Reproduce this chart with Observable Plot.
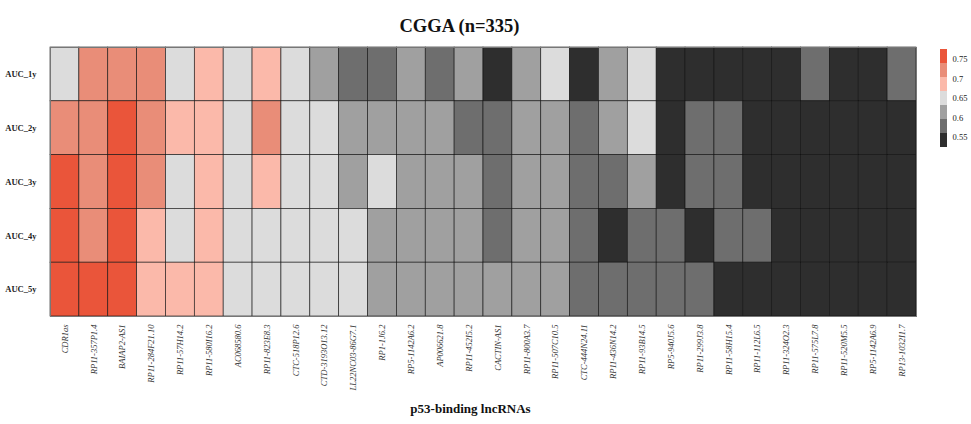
<!DOCTYPE html>
<html>
<head>
<meta charset="utf-8">
<script src="https://cdn.jsdelivr.net/npm/d3@7"></script>
<script src="https://cdn.jsdelivr.net/npm/@observablehq/plot@0.6"></script>
<style>
  body { margin: 0; background: #fff; }
  #wrap { position: relative; width: 971px; height: 424px; }
  #legend { position: absolute; left: 930px; top: 40px; }
</style>
</head>
<body>
<div id="wrap"><div id="main"></div><div id="legend"></div></div>
<script>
const genes = ["CDR1as","RP11-357P1.4","BAIAP2-AS1","RP11-284F21.10","RP11-57H14.2","RP11-580I16.2","AC068580.6","RP11-823E8.3","CTC-518P12.6","CTD-3193O13.12","LL22NC03-86G7.1","RP1-1J6.2","RP5-1142A6.2","AP006621.8","RP11-452I5.2","CACTIN-AS1","RP11-800A3.7","RP11-507C10.5","CTC-444N24.11","RP11-436N14.2","RP11-93B14.5","RP5-940J5.6","RP11-299J3.8","RP11-58H15.4","RP11-112L6.5","RP11-324O2.3","RP11-575L7.8","RP11-520M5.5","RP5-1142A6.9","RP13-1032I1.7"];
const rows = ["AUC_1y","AUC_2y","AUC_3y","AUC_4y","AUC_5y"];
const auc1y = [0.651,0.718,0.716,0.719,0.649,0.688,0.652,0.686,0.650,0.612,0.578,0.580,0.613,0.577,0.614,0.540,0.615,0.652,0.541,0.611,0.649,0.538,0.536,0.539,0.542,0.540,0.579,0.537,0.541,0.578];
const auc2y = [0.717,0.720,0.757,0.719,0.687,0.690,0.651,0.721,0.649,0.652,0.612,0.614,0.611,0.613,0.578,0.580,0.612,0.614,0.577,0.613,0.650,0.540,0.578,0.579,0.541,0.539,0.538,0.540,0.542,0.539];
const auc3y = [0.758,0.719,0.759,0.718,0.650,0.689,0.649,0.688,0.651,0.650,0.613,0.648,0.612,0.611,0.614,0.579,0.613,0.612,0.578,0.577,0.614,0.539,0.579,0.578,0.540,0.538,0.541,0.539,0.537,0.540];
const auc4y = [0.761,0.718,0.760,0.687,0.652,0.689,0.650,0.651,0.649,0.652,0.648,0.612,0.613,0.614,0.612,0.578,0.611,0.613,0.579,0.541,0.577,0.580,0.539,0.578,0.579,0.540,0.538,0.539,0.541,0.537];
const auc5y = [0.762,0.760,0.759,0.688,0.686,0.690,0.651,0.650,0.652,0.649,0.650,0.613,0.612,0.611,0.614,0.615,0.612,0.613,0.578,0.579,0.577,0.580,0.578,0.539,0.541,0.540,0.538,0.539,0.537,0.541];
const legendTicks = [0.55, 0.6, 0.65, 0.7, 0.75];
const thresholds = [0.560, 0.596, 0.632, 0.668, 0.704, 0.740];
const palette = ["#2e2e2e","#6e6e6e","#a0a0a0","#dcdcdc","#fbb9aa","#e98d78","#ea553a"];
const legendRange = [0.524, 0.776];

const series = [auc1y, auc2y, auc3y, auc4y, auc5y];
const cells = [];
rows.forEach((r, i) => genes.forEach((g, j) => cells.push({row: r, gene: g, value: series[i][j]})));

const serif = "'Liberation Serif', 'DejaVu Serif', serif";

const plot = Plot.plot({
  width: 971,
  height: 424,
  marginTop: 47,
  marginLeft: 50,
  marginRight: 55,
  marginBottom: 108,
  style: {fontFamily: serif, background: "#fff", overflow: "visible"},
  x: {domain: genes, padding: 0, round: false, label: null},
  y: {domain: rows, padding: 0, round: false, label: null},
  color: {type: "threshold", domain: thresholds, range: palette},
  marks: [
    Plot.cell(cells, {x: "gene", y: "row", fill: "value", stroke: "#111", strokeWidth: 0.7, strokeOpacity: 0.85}),
    Plot.frame({stroke: "#777", strokeWidth: 1}),
    Plot.axisY({tickSize: 0, tickPadding: 14, fontSize: 8.5, fontWeight: "bold", fill: "#222"}),
    Plot.axisX({tickSize: 0, tickPadding: 8, tickRotate: -90, fontSize: 8.5, fontStyle: "italic", fill: "#333", label: null}),
    Plot.text(["CGGA (n=335)"], {frameAnchor: "top", dy: -29, dx: -24, fontSize: 18.5, fontWeight: "bold", fill: "#111", fontFamily: serif}),
    Plot.text(["p53-binding lncRNAs"], {frameAnchor: "bottom", dy: 96, dx: -13, fontSize: 13, fontWeight: "bold", fill: "#111", fontFamily: serif})
  ]
});
document.getElementById("main").appendChild(plot);

// legend: bins between thresholds drawn on a linear y scale
const edges = [legendRange[0], ...thresholds, legendRange[1]];
const bins = palette.map((c, i) => ({y1: edges[i], y2: edges[i + 1], c}));
const legend = Plot.plot({
  width: 41,
  height: 115,
  marginTop: 9,
  marginBottom: 8,
  marginLeft: 10,
  marginRight: 24,
  style: {fontFamily: serif, background: "transparent"},
  x: {domain: [0, 1], axis: null},
  y: {domain: legendRange, label: null},
  marks: [
    Plot.rect(bins, {x1: 0, x2: 1, y1: "y1", y2: "y2", fill: "c"}),
    Plot.axisY(legendTicks, {anchor: "right", tickSize: 0, tickPadding: 5, fontSize: 8.5, fill: "#222", tickFormat: d => String(d)})
  ]
});
document.getElementById("legend").appendChild(legend);
</script>
</body>
</html>
